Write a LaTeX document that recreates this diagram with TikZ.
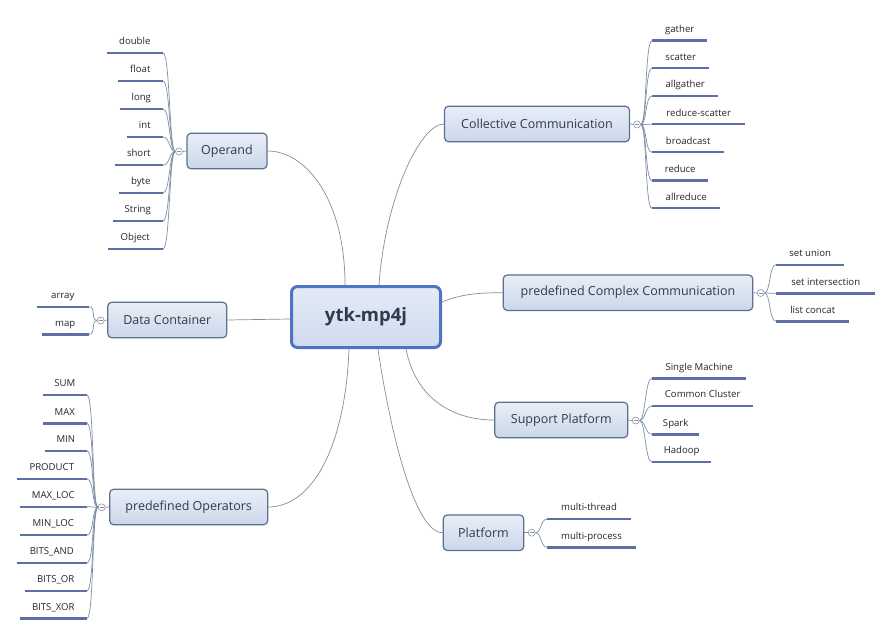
\documentclass[tikz,border=0pt]{standalone}
\usepackage{fontspec}
\setmainfont{Open Sans}
\definecolor{tborder}{HTML}{5D7090}
\definecolor{ttop}{HTML}{E9EEF7}
\definecolor{tbot}{HTML}{CAD7EA}
\definecolor{cborder}{HTML}{4E74C2}
\definecolor{ctop}{HTML}{E4EBF6}
\definecolor{cbot}{HTML}{CFDBEF}
\definecolor{txt}{HTML}{2F3B4C}
\definecolor{conncol}{HTML}{7F8EA5}
\definecolor{ulcol}{HTML}{5D6FA6}
\definecolor{colcol}{HTML}{8596AB}
\tikzset{
  central/.style={draw=cborder, line width=3pt, rounded corners=6pt, top color=ctop, bottom color=cbot,
    font=\bfseries\fontsize{18.5}{22}\selectfont, text=txt, minimum width=149pt, minimum height=61pt, inner sep=0pt},
  topic/.style={draw=tborder, line width=1.2pt, rounded corners=4pt, top color=ttop, bottom color=tbot,
    font=\fontsize{12.5}{15}\selectfont, text=txt, minimum height=35.5pt, inner sep=0pt},
  leaf/.style={font=\fontsize{9.6}{11}\selectfont, text=black!85, inner xsep=0pt, inner ysep=5.5pt,
    text height=7pt, text depth=2.5pt, align=center},
  leafR/.style={leaf, anchor=south west, minimum width=#1},
  leafL/.style={leaf, anchor=south east, minimum width=#1},
  uline/.style={draw=ulcol, line width=2.4pt},
  conn/.style={draw=conncol, line width=0.7pt},
  collapse/.style={circle, draw=colcol, fill=white, line width=0.6pt, minimum size=7pt, inner sep=0pt,
    path picture={\draw[colcol, line width=0.5pt] ([xshift=-2pt]path picture bounding box.center) -- ([xshift=2pt]path picture bounding box.center);}}
}
\begin{document}
\begin{tikzpicture}[x=1pt,y=-1pt]
\useasboundingbox[fill=white] (0,0) rectangle (893,636);

% central
\node[central] (root) at (366,317) {ytk-mp4j};

% topics
\node[topic, minimum width=80pt]    (operand) at (227,151) {Operand};
\node[topic, minimum width=185pt]   (coll)    at (537,124) {Collective Communication};
\node[topic, minimum width=249.5pt] (cplx)    at (628,292.7) {predefined Complex Communication};
\node[topic, minimum width=119pt]   (dcont)   at (167.3,320) {Data Container};
\node[topic, minimum width=158pt]   (ops)     at (188.7,507) {predefined Operators};
\node[topic, minimum width=133pt]   (supp)    at (561.3,420) {Support Platform};
\node[topic, minimum width=80.5pt]  (plat)    at (483.5,532.7) {Platform};

% collapse circles
\node[collapse] (c1) at (179,151.5) {};
\node[collapse] (c2) at (637,124.5) {};
\node[collapse] (c3) at (760.7,293) {};
\node[collapse] (c4) at (100.7,320.5) {};
\node[collapse] (c5) at (101.7,507.3) {};
\node[collapse] (c6) at (635.7,420.5) {};
\node[collapse] (c7) at (531.7,532.7) {};

% main connectors
\draw[conn] ([xshift=-21pt]root.north) .. controls +(0,-86) and +(38,0) .. (operand.east);
\draw[conn] ([xshift=13pt]root.north) .. controls +(6,-86) and +(-24,0) .. (coll.west);
\draw[conn] ([yshift=15pt]root.east) .. controls +(19,-8) and +(-23,0) .. (cplx.west);
\draw[conn] ([yshift=-2pt]root.west) -- (dcont.east);
\draw[conn] ([xshift=-17pt]root.south) .. controls +(-4,102) and +(42,0) .. (ops.east);
\draw[conn] ([xshift=12pt]root.south) .. controls +(12,82) and +(-28,0) .. (plat.west);
\draw[conn] ([xshift=40pt]root.south) .. controls +(9,47) and +(-44,0) .. (supp.west);

% topic to circle
\draw[conn] (operand.west) -- (c1.east);
\draw[conn] (coll.east) -- (c2.west);
\draw[conn] (cplx.east) -- (c3.west);
\draw[conn] (dcont.west) -- (c4.east);
\draw[conn] (ops.west) -- (c5.east);
\draw[conn] (supp.east) -- (c6.west);
\draw[conn] (plat.east) -- (c7.west);

% leaves: Operand (left)
\foreach \n/\y/\w/\t in {o1/53/56/double, o2/81/45/float, o3/109/43/long, o4/137/36/int,
  o5/165/48/short, o6/193/44/byte, o7/221/50/String, o8/249/55/Object}{
  \node[leafL=\w pt] (\n) at (163,\y) {\t};
  \draw[uline] (\n.south west) -- (\n.south east);
  \draw[conn] (c1.west) .. controls +(-6,0) and +(7,0) .. (\n.south east);
}
% leaves: Collective (right)
\foreach \n/\y/\w/\t in {k1/40.7/55/gather, k2/68.3/57/scatter, k3/96/66/allgather,
  k4/124.3/93/reduce-scatter, k5/152.3/72/broadcast, k6/180.7/56/reduce, k7/208.3/68/allreduce}{
  \node[leafR=\w pt] (\n) at (652,\y) {\t};
  \draw[uline] (\n.south west) -- (\n.south east);
  \draw[conn] (c2.east) .. controls +(6,0) and +(-7,0) .. (\n.south west);
}
% leaves: Complex (right)
\foreach \n/\y/\w/\t in {x1/264.7/68/set union, x2/293.3/99/set intersection, x3/321.3/73/list concat}{
  \node[leafR=\w pt] (\n) at (776,\y) {\t};
  \draw[uline] (\n.south west) -- (\n.south east);
  \draw[conn] (c3.east) .. controls +(6,0) and +(-7,0) .. (\n.south west);
}
% leaves: Data Container (left)
\foreach \n/\y/\w/\t in {d1/306.7/52/array, d2/334.3/47/map}{
  \node[leafL=\w pt] (\n) at (89,\y) {\t};
  \draw[uline] (\n.south west) -- (\n.south east);
  \draw[conn] (c4.west) .. controls +(-6,0) and +(7,0) .. (\n.south east);
}
% leaves: Operators (left)
\foreach \n/\y/\w/\t in {p1/395/44/SUM, p2/423.3/44/MAX, p3/451/42/MIN, p4/479/70/PRODUCT,
  p5/506.7/67/MAX\_LOC, p6/535/67/MIN\_LOC, p7/562.7/70/BITS\_AND, p8/590.7/62/BITS\_OR, p9/618.3/67/BITS\_XOR}{
  \node[leafL=\w pt] (\n) at (87,\y) {\t};
  \draw[uline] (\n.south west) -- (\n.south east);
  \draw[conn] (c5.west) .. controls +(-6,0) and +(7,0) .. (\n.south east);
}
% leaves: Support Platform (right)
\foreach \n/\y/\w/\t in {s1/378.3/94/Single Machine, s2/406/101/Common Cluster, s3/434.3/47/Spark, s4/462/59/Hadoop}{
  \node[leafR=\w pt] (\n) at (652,\y) {\t};
  \draw[uline] (\n.south west) -- (\n.south east);
  \draw[conn] (c6.east) .. controls +(6,0) and +(-7,0) .. (\n.south west);
}
% leaves: Platform (right)
\foreach \n/\y/\w/\t in {m1/519/83/multi-thread, m2/547.3/88/multi-process}{
  \node[leafR=\w pt] (\n) at (547.3,\y) {\t};
  \draw[uline] (\n.south west) -- (\n.south east);
  \draw[conn] (c7.east) .. controls +(6,0) and +(-7,0) .. (\n.south west);
}
\end{tikzpicture}
\end{document}
